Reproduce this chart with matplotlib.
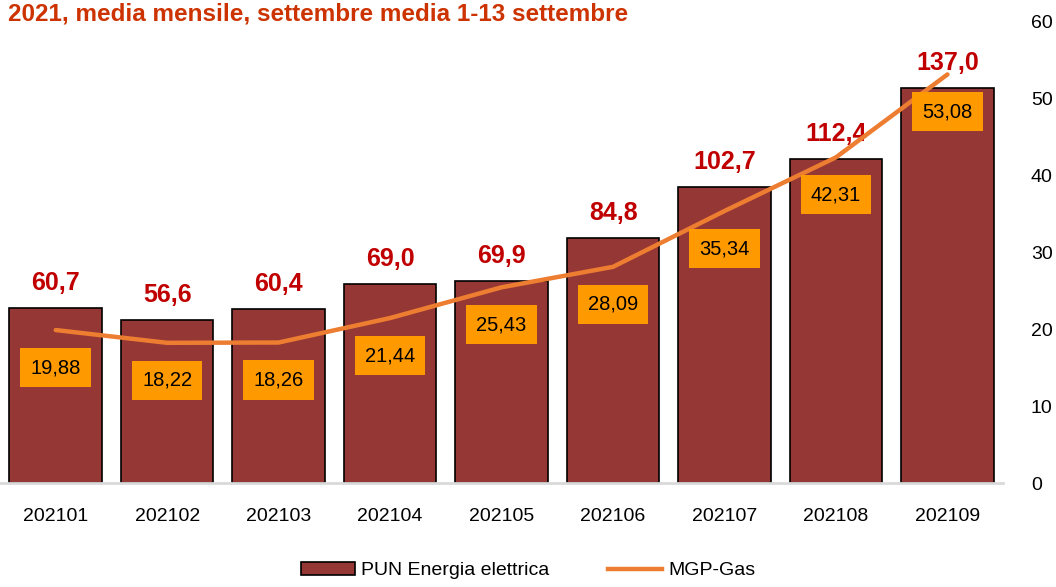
import matplotlib
matplotlib.use("Agg")
import matplotlib.pyplot as plt
from matplotlib.patches import Patch
from matplotlib.lines import Line2D

plt.rcParams['font.family'] = ['Liberation Sans', 'DejaVu Sans']

# Dati
mesi = ["202101", "202102", "202103", "202104", "202105", "202106", "202107", "202108", "202109"]
pun = [60.7, 56.6, 60.4, 69.0, 69.9, 84.8, 102.7, 112.4, 137.0]
gas = [19.88, 18.22, 18.26, 21.44, 25.43, 28.09, 35.34, 42.31, 53.08]

col_barre = "#953735"
col_gas = "#ED7D31"
col_etichette = "#C00000"

fig = plt.figure(figsize=(10.56, 5.87), dpi=100)
ax = fig.add_axes([0.0, 0.177, 0.95, 0.787])
ax2 = ax.twinx()

x = list(range(len(mesi)))

# Barre PUN (asse sinistro nascosto)
ax.bar(x, pun, width=0.83, color=col_barre, edgecolor="black", linewidth=1.2, zorder=2)
ax.set_ylim(0, 160)
ax.set_xlim(-0.5, len(mesi) - 0.5)
ax.set_yticks([])
for lato in ["left", "right", "top"]:
    ax.spines[lato].set_visible(False)
ax.spines["bottom"].set_color("#D9D9D9")
ax.spines["bottom"].set_linewidth(2)
ax.set_xticks(x)
ax.set_xticklabels(mesi, fontsize=14)
ax.tick_params(axis="x", length=0, pad=18)

for xi, v in zip(x, pun):
    ax.annotate(f"{v:.1f}".replace(".", ","), (xi, v), xytext=(0, 18), textcoords="offset points",
                ha="center", va="center", fontsize=18, fontweight="bold", color=col_etichette)

# Linea gas (asse destro)
ax2.plot(x, gas, color=col_gas, linewidth=3.2, solid_capstyle="round", zorder=3)
ax2.set_ylim(0, 60)
ax2.set_yticks(range(0, 61, 10))
ax2.tick_params(axis="y", length=0, pad=20, labelsize=14)
for lato in ["left", "right", "top", "bottom"]:
    ax2.spines[lato].set_visible(False)

for xi, v in zip(x, gas):
    ax2.annotate(f"{v:.2f}".replace(".", ","), (xi, v), xytext=(0, -27), textcoords="offset points",
                 ha="center", va="center", fontsize=14.5, color="black", zorder=5,
                 bbox=dict(boxstyle="square,pad=0.5", fc="#FF9900", ec="none"))

# Titolo (tagliato in alto)
fig.text(0.008, 1 - 20 / 587, "2021, media mensile, settembre media 1-13 settembre",
         ha="left", va="baseline", fontsize=17.5, fontweight="bold", color="#CC3300")

# Legenda
handles = [Patch(facecolor=col_barre, edgecolor="black", linewidth=1.2),
           Line2D([0], [0], color=col_gas, linewidth=3.2)]
fig.legend(handles, ["PUN Energia elettrica", "MGP-Gas"], loc="center", bbox_to_anchor=(0.5, 0.028),
           ncol=2, frameon=False, fontsize=14, handlelength=2.8, columnspacing=3, handletextpad=0.3)

fig.savefig("out.png", dpi=100)
